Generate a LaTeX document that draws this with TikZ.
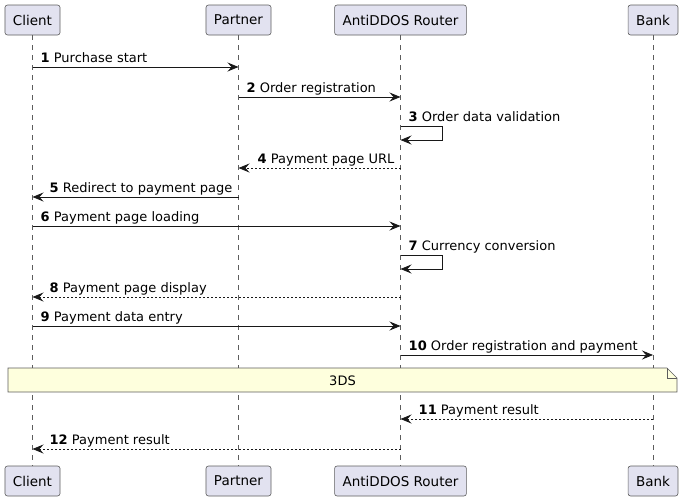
\documentclass[tikz,border=0pt]{standalone}
\usepackage{fontspec}
\setmainfont{DejaVu Sans}
\usetikzlibrary{arrows.meta}
\definecolor{partfill}{HTML}{E2E2F0}
\definecolor{linecol}{HTML}{181818}
\definecolor{notefill}{HTML}{FEFFDD}
\tikzset{
  part/.style={draw=linecol!70, fill=partfill, rounded corners=2.5pt, line width=0.6pt,
    minimum height=30pt, inner xsep=8pt, font=\fontsize{13.5}{16}\selectfont, anchor=center},
  life/.style={draw=linecol!70, dash pattern=on 5pt off 5pt, line width=0.5pt},
  msg/.style={draw=linecol, line width=0.8pt, -{Stealth[length=11pt,width=9pt,inset=4pt]}},
  ret/.style={msg, dash pattern=on 2pt off 2pt},
  lbl/.style={font=\fontsize{13}{15}\selectfont, inner sep=0pt, anchor=base west},
  notebox/.style={draw=linecol!70, fill=notefill, line width=0.6pt},
}
\begin{document}
\begin{tikzpicture}[x=1pt,y=-1pt]
\useasboundingbox (0,0) rectangle (683,501);
% participants
\node[part] (c1) at (32.5,20) {Client};
\node[part] (p1) at (238.5,20) {Partner};
\node[part] (r1) at (400.5,20) {AntiDDOS Router};
\node[part] (b1) at (653,20) {Bank};
\node[part] (c2) at (32.5,481) {Client};
\node[part] (p2) at (238.5,481) {Partner};
\node[part] (r2) at (400.5,481) {AntiDDOS Router};
\node[part] (b2) at (653,481) {Bank};
\draw[life] (c1) -- (c2);
\draw[life] (p1) -- (p2);
\draw[life] (r1) -- (r2);
\draw[life] (b1) -- (b2);
% coordinates on lifelines
\foreach \n/\y in {1/67,2/97,3/126,4/168,5/197,6/226,7/255,8/297,9/326,10/355,11/419,12/449}{
  \coordinate (cl\n) at (c1 |- 0,\y);
  \coordinate (pa\n) at (p1 |- 0,\y);
  \coordinate (ro\n) at (r1 |- 0,\y);
  \coordinate (ba\n) at (b1 |- 0,\y);
}
\coordinate (ro3b) at (r1 |- 0,140);
\coordinate (ro7b) at (r1 |- 0,269);
% note
\draw[notebox] (8,368) -- (667,368) -- (677,378) -- (677,392) -- (8,392) -- cycle;
\draw[notebox, fill=none] (667,368) |- (677,378);
\node[font=\fontsize{13}{15}\selectfont, inner sep=0pt] (note) at (342.5,381) {3DS};
% messages
\draw[msg] (cl1) -- (pa1);
\node[lbl] at ([xshift=8pt,yshift=5pt]cl1) {\textbf{1} Purchase start};
\draw[msg] (pa2) -- (ro2);
\node[lbl] at ([xshift=8pt,yshift=5pt]pa2) {\textbf{2} Order registration};
\draw[msg] (ro3) -- ++(42,0) |- (ro3b);
\node[lbl] at ([xshift=8pt,yshift=5pt]ro3) {\textbf{3} Order data validation};
\draw[ret] (ro4) -- (pa4);
\node[lbl] at ([xshift=19pt,yshift=5pt]pa4) {\textbf{4} Payment page URL};
\draw[msg] (pa5) -- (cl5);
\node[lbl] at ([xshift=17pt,yshift=5pt]cl5) {\textbf{5} Redirect to payment page};
\draw[msg] (cl6) -- (ro6);
\node[lbl] at ([xshift=8pt,yshift=5pt]cl6) {\textbf{6} Payment page loading};
\draw[msg] (ro7) -- ++(42,0) |- (ro7b);
\node[lbl] at ([xshift=8pt,yshift=5pt]ro7) {\textbf{7} Currency conversion};
\draw[ret] (ro8) -- (cl8);
\node[lbl] at ([xshift=17pt,yshift=5pt]cl8) {\textbf{8} Payment page display};
\draw[msg] (cl9) -- (ro9);
\node[lbl] at ([xshift=8pt,yshift=5pt]cl9) {\textbf{9} Payment data entry};
\draw[msg] (ro10) -- (ba10);
\node[lbl] at ([xshift=8pt,yshift=5pt]ro10) {\textbf{10} Order registration and payment};
\draw[ret] (ba11) -- (ro11);
\node[lbl] at ([xshift=18pt,yshift=5pt]ro11) {\textbf{11} Payment result};
\draw[ret] (ro12) -- (cl12);
\node[lbl] at ([xshift=17pt,yshift=5pt]cl12) {\textbf{12} Payment result};
\end{tikzpicture}
\end{document}
